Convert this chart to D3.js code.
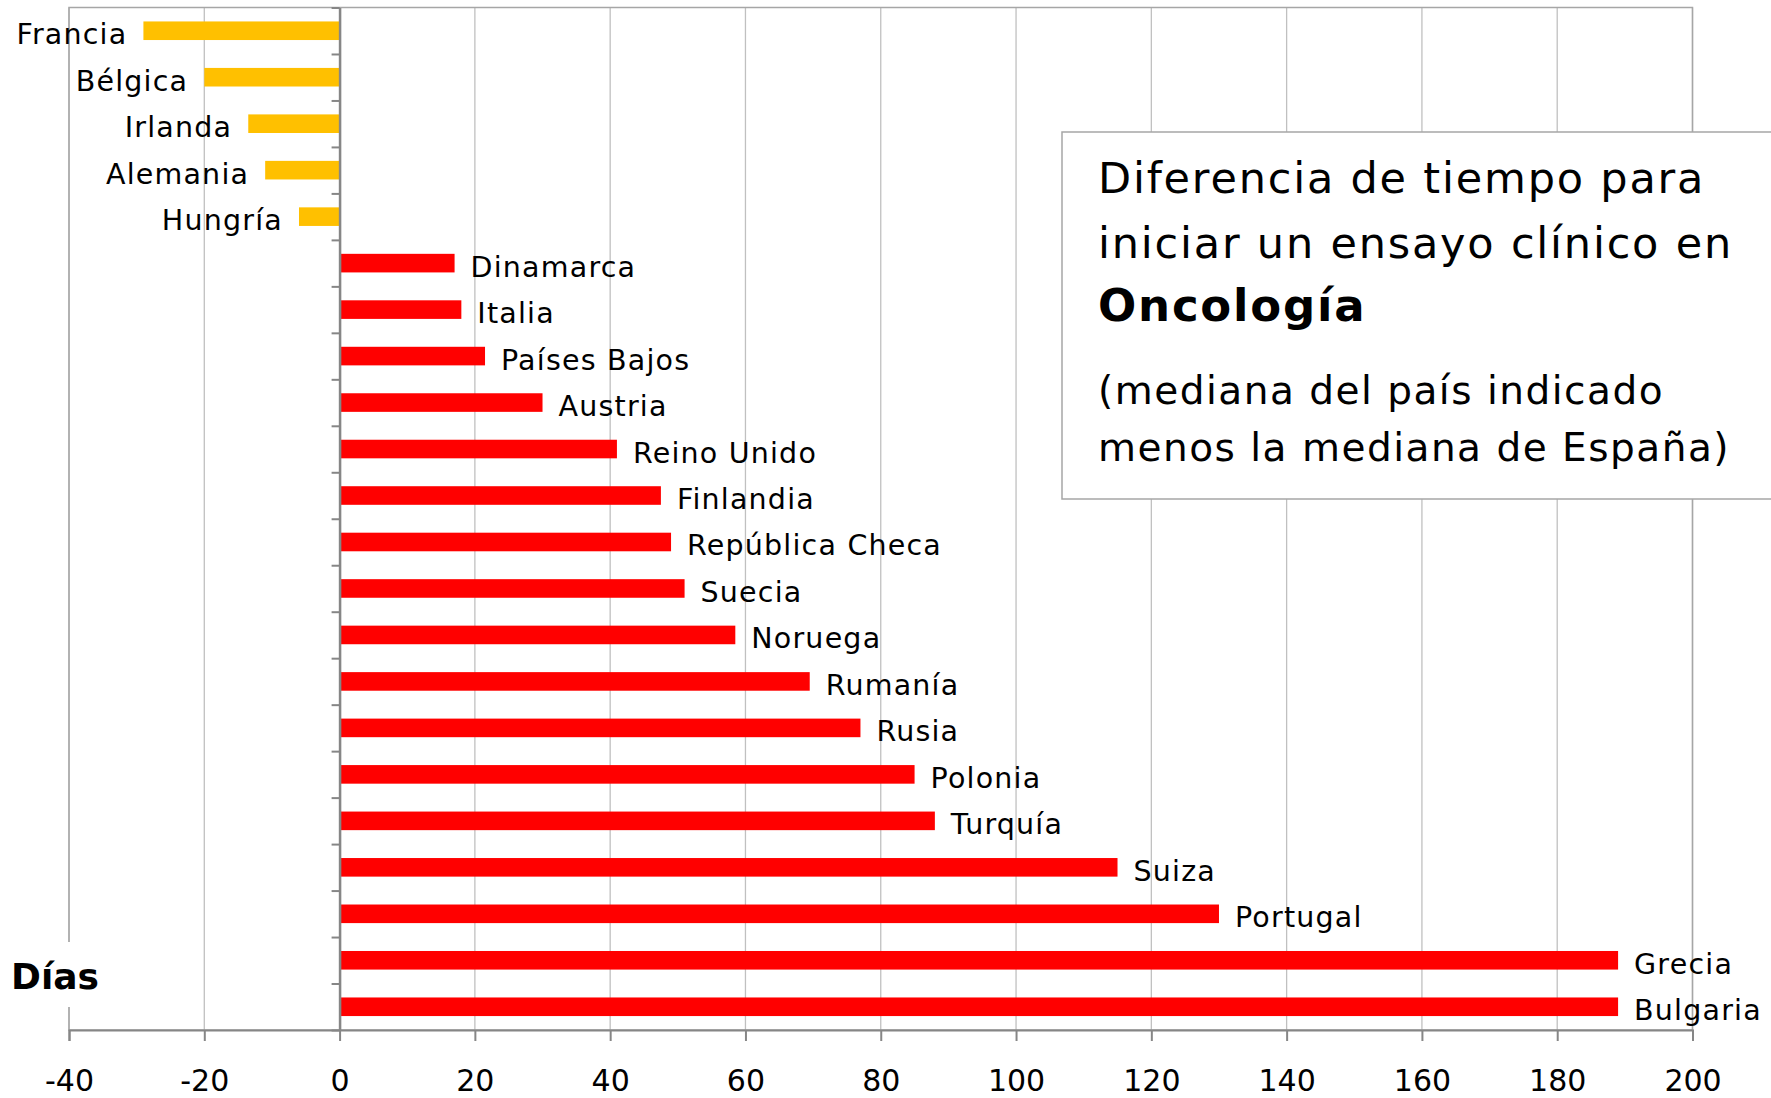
<!DOCTYPE html>
<html>
<head>
<meta charset="utf-8">
<script src="https://cdnjs.cloudflare.com/ajax/libs/d3/7.8.5/d3.min.js"></script>
<style>
  body { margin: 0; background: #fff; }
  svg { display: block; font-family: "DejaVu Sans", Verdana, sans-serif; }
</style>
</head>
<body>
<svg id="chart" width="1771" height="1098"></svg>
<script>
// datos: mediana del país menos la mediana de España (días)
var paises = ["Francia", "Bélgica", "Irlanda", "Alemania", "Hungría",
  "Dinamarca", "Italia", "Países Bajos", "Austria", "Reino Unido", "Finlandia",
  "República Checa", "Suecia", "Noruega", "Rumanía", "Rusia", "Polonia",
  "Turquía", "Suiza", "Portugal", "Grecia", "Bulgaria"];
var dias = [-29, -20, -13.5, -11, -6,
  17, 18, 21.5, 30, 41, 47.5,
  49, 51, 58.5, 69.5, 77, 85,
  88, 115, 130, 189, 189];
var ticksX = [-40, -20, 0, 20, 40, 60, 80, 100, 120, 140, 160, 180, 200];
var tituloNormal = ["Diferencia de tiempo para", "iniciar un ensayo clínico en"];
var tituloNegrita = ["Oncología"];
var subtitulo = ["(mediana del país indicado", "menos la mediana de España)"];
var ejeTitulo = "Días";

var svg = d3.select("#chart"),
    margin = {top: 7.5, right: 78.5, bottom: 68, left: 69},
    width = +svg.attr("width"),
    height = +svg.attr("height"),
    innerW = width - margin.left - margin.right,
    innerH = height - margin.top - margin.bottom;

var x = d3.scaleLinear()
    .domain([-40, 200])
    .range([0, innerW]);
var y = d3.scaleBand()
    .domain(paises)
    .range([0, innerH])
    .paddingInner(0.6)
    .paddingOuter(0.3);
// límites entre categorías, para las marcas del eje vertical
var yb = d3.scaleLinear()
    .domain([0, paises.length])
    .range([0, innerH]);

var g = svg.append("g")
    .attr("transform", "translate(" + margin.left + "," + margin.top + ")");

// rejilla vertical
g.selectAll("line.grid")
    .data(ticksX)
  .enter().append("line")
    .attr("class", "grid")
    .attr("x1", function(d) { return x(d); })
    .attr("x2", function(d) { return x(d); })
    .attr("y1", 0)
    .attr("y2", innerH)
    .attr("stroke", "#c0c0c0")
    .attr("stroke-width", 1.3);

// borde del área de trazado
g.append("rect")
    .attr("width", innerW)
    .attr("height", innerH)
    .attr("fill", "none")
    .attr("stroke", "#a6a6a6")
    .attr("stroke-width", 1.5);

g.selectAll("rect.bar")
    .data(dias)
  .enter().append("rect")
    .attr("class", "bar")
    .attr("x", function(d) { return x(Math.min(0, d)); })
    .attr("y", function(d, i) { return y(paises[i]); })
    .attr("width", function(d) { return Math.abs(x(d) - x(0)); })
    .attr("height", y.bandwidth())
    .attr("fill", function(d) { return d < 0 ? "#ffc000" : "#ff0000"; });

g.selectAll("text.etiqueta")
    .data(dias)
  .enter().append("text")
    .attr("class", "etiqueta")
    .attr("x", function(d) { return d < 0 ? x(d) - 16 : x(d) + 16; })
    .attr("y", function(d, i) { return y(paises[i]) + y.bandwidth() / 2 + 13.5; })
    .attr("text-anchor", function(d) { return d < 0 ? "end" : "start"; })
    .style("font-size", "28.5px")
    .style("letter-spacing", "1.2px")
    .text(function(d, i) { return paises[i]; });

// eje horizontal (guion normal en los negativos)
var ax = g.append("g")
    .attr("transform", "translate(0," + innerH + ")")
    .call(d3.axisBottom(x).tickValues(ticksX).tickSize(11).tickPadding(29)
      .tickFormat(function(d) { return String(d); }));
ax.select(".domain").attr("stroke", "#868686").attr("stroke-width", 2);
ax.selectAll(".tick line").attr("stroke", "#868686").attr("stroke-width", 2);
ax.selectAll(".tick text")
    .style("font-size", "30px")
    .style("font-family", "'DejaVu Sans', Verdana, sans-serif")
    .attr("fill", "#000");

// eje vertical en el cero
var ay = g.append("g")
    .attr("transform", "translate(" + x(0) + ",0)")
    .call(d3.axisLeft(yb).tickValues(d3.range(0, paises.length + 1)).tickSize(8).tickSizeOuter(0).tickFormat(""));
ay.select(".domain").attr("stroke", "#868686").attr("stroke-width", 2.5);
ay.selectAll(".tick line").attr("stroke", "#868686").attr("stroke-width", 2);

// título del eje con fondo blanco
svg.append("rect")
    .attr("x", 4)
    .attr("y", 942)
    .attr("width", 102)
    .attr("height", 65)
    .attr("fill", "#fff");
svg.append("text")
    .attr("x", 11)
    .attr("y", 989)
    .style("font-size", "36px")
    .style("font-weight", "bold")
    .text(ejeTitulo);

// cuadro de texto
var caja = svg.append("g");
caja.append("rect")
    .attr("x", 1062)
    .attr("y", 132)
    .attr("width", 760)
    .attr("height", 367)
    .attr("fill", "#fff")
    .attr("stroke", "#a6a6a6")
    .attr("stroke-width", 1.5);

var lineas = [
  {t: tituloNormal[0], y: 193, size: 43, bold: false},
  {t: tituloNormal[1], y: 258, size: 43, bold: false},
  {t: tituloNegrita[0], y: 321, size: 45, bold: true},
  {t: subtitulo[0], y: 404, size: 39, bold: false},
  {t: subtitulo[1], y: 461, size: 39, bold: false}
];
caja.selectAll("text")
    .data(lineas)
  .enter().append("text")
    .attr("x", 1098)
    .attr("y", function(d) { return d.y; })
    .style("font-size", function(d) { return d.size + "px"; })
    .style("font-weight", function(d) { return d.bold ? "bold" : "normal"; })
    .style("letter-spacing", function(d) { return d.size > 40 ? "1.8px" : "1.5px"; })
    .text(function(d) { return d.t; });
</script>
</body>
</html>
